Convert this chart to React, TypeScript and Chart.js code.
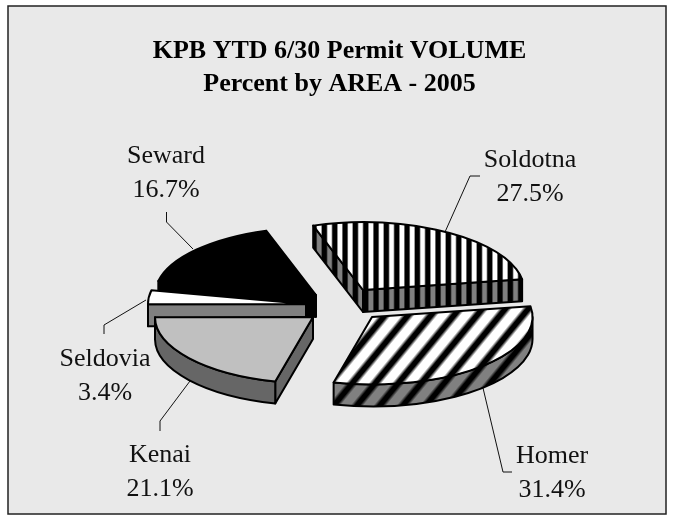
import React, { useEffect, useRef } from "react";
import { Chart, registerables } from "chart.js";

Chart.register(...registerables);

const titleLines = ["KPB YTD 6/30 Permit VOLUME", "Percent by AREA - 2005"];
const areas = ["Soldotna", "Homer", "Kenai", "Seldovia", "Seward"];
const percents = [27.5, 31.4, 21.1, 3.4, 16.7];

// Style / layout constants
const WIDTH = 674;
const HEIGHT = 522;
const SERIF = "'Liberation Serif', serif";
const BG = "#e9e9e9";
const PIE_CENTER = { x: 347, y: 306 };
const SQUASH = 0.42;
const RADIUS = 158;
const DEPTH = 22;
const OUTLINE = 2;
const explodeShift = [
  [16, -16],
  [25, 11],
  [-34, 11],
  [-41, -2],
  [-31, -11],
];
const sliceScale = [1.02, 1.016, 1, 1, 1.02];
const paintOrder = [4, 3, 2, 0, 1];
const labelAnchors = [
  [530, 167],
  [552, 463],
  [160, 462],
  [105, 366],
  [166, 163],
];
const leaders = [
  [[480, 176], [470, 176], [445, 232]],
  [[512, 472], [503, 472], [483, 388]],
  [[160, 431], [160, 421], [190, 381]],
  [[104, 334], [104, 325], [146, 300]],
  [[166.5, 212], [166.5, 222], [193, 249]],
];

function clamp01(v: number) {
  return Math.max(0, Math.min(1, v));
}

// Build a tile pixel by pixel; shade(x, y) = 0 for black, 1 for the light colour.
function tile(w: number, h: number, light: number, shade: (x: number, y: number) => number) {
  const cv = document.createElement("canvas");
  cv.width = w;
  cv.height = h;
  const c = cv.getContext("2d") as CanvasRenderingContext2D;
  const img = c.createImageData(w, h);
  for (let y = 0; y < h; y++) {
    for (let x = 0; x < w; x++) {
      const v = Math.round(shade(x + 0.5, y + 0.5) * light);
      const k = (y * w + x) * 4;
      img.data[k] = v;
      img.data[k + 1] = v;
      img.data[k + 2] = v;
      img.data[k + 3] = 255;
    }
  }
  c.putImageData(img, 0, 0);
  return cv;
}

function verticalStripes(light: number) {
  const period = 62 / 6;
  const phase = 4.05;
  return tile(62, 1, light, (x) => {
    let d = Math.abs(((x - phase) % period + period) % period);
    d = Math.min(d, period - d);
    return clamp01((d - 1.9) / 1.6);
  });
}

function diagonalStripes(light: number) {
  const W = 23;
  const H = 28;
  return tile(W, H, light, (x, y) => {
    let d = (x + (y * W) / H) % W;
    d = Math.min(d, W - d);
    return clamp01((d - 2.6) / 4);
  });
}

export default function App() {
  const ref = useRef<HTMLCanvasElement>(null);
  useEffect(() => {
    const canvas = ref.current as HTMLCanvasElement;
    const ctx = canvas.getContext("2d") as CanvasRenderingContext2D;
    const pat = (cv: HTMLCanvasElement) => ctx.createPattern(cv, "repeat") as CanvasPattern;
    const topFills: any[] = [
      pat(verticalStripes(255)),
      pat(diagonalStripes(255)),
      "#c0c0c0",
      "#ffffff",
      "#000000",
    ];
    const wallFills: any[] = [
      pat(verticalStripes(128)),
      pat(diagonalStripes(128)),
      "#666666",
      "#808080",
      "#000000",
    ];

    const frame = {
      id: "frame",
      beforeDraw(chart: any) {
        const c = chart.ctx;
        c.save();
        c.fillStyle = BG;
        c.fillRect(8, 6, 658, 508);
        c.strokeStyle = "#222";
        c.lineWidth = 1.5;
        c.strokeRect(8, 6, 658, 508);
        c.restore();
      },
    };

    const pie3d = {
      id: "pie3d",
      beforeDatasetsDraw(chart: any) {
        const c: CanvasRenderingContext2D = chart.ctx;
        const arcs = chart.getDatasetMeta(0).data;

        c.save();
        c.strokeStyle = "#111";
        c.lineWidth = 1;
        leaders.forEach((pts) => {
          c.beginPath();
          pts.forEach(([x, y], i) => (i ? c.lineTo(x, y) : c.moveTo(x, y)));
          c.stroke();
        });
        c.restore();

        paintOrder.forEach((i) => {
          const arc = arcs[i];
          const cx = PIE_CENTER.x + explodeShift[i][0];
          const cy = PIE_CENTER.y + explodeShift[i][1];
          const f = sliceScale[i];
          const r = arc.outerRadius * f;
          const ry = r * SQUASH;
          const TAU = Math.PI * 2;
          let s = arc.startAngle % TAU;
          if (s < 0) s += TAU;
          const e = s + (arc.endAngle - arc.startAngle);
          const pt = (a: number) => [cx + r * Math.cos(a), cy + ry * Math.sin(a)];

          c.save();
          c.lineJoin = "round";
          c.lineWidth = OUTLINE;
          c.strokeStyle = "#000";
          c.fillStyle = wallFills[i];

          const quad = (a: number) => {
            const p = pt(a);
            c.beginPath();
            c.moveTo(cx, cy);
            c.lineTo(p[0], p[1]);
            c.lineTo(p[0], p[1] + DEPTH);
            c.lineTo(cx, cy + DEPTH);
            c.closePath();
            c.fill();
            c.stroke();
          };
          if (Math.cos(s) < 0) quad(s);
          if (Math.cos(e) > 0) quad(e);

          [0, TAU].forEach((base) => {
            const a0 = Math.max(s, base);
            const a1 = Math.min(e, base + Math.PI);
            if (a1 <= a0) return;
            c.beginPath();
            c.ellipse(cx, cy, r, ry, 0, a0, a1);
            c.ellipse(cx, cy + DEPTH, r, ry, 0, a1, a0, true);
            c.closePath();
            c.fill();
            c.stroke();
          });

          // top face: the library's own arc element under a squashing transform
          c.save();
          c.translate(cx, cy);
          c.scale(f, f * SQUASH);
          c.translate(-arc.x, -arc.y);
          const fill = topFills[i];
          if (typeof fill !== "string") fill.setTransform(c.getTransform().inverse());
          arc.draw(c);
          c.restore();

          c.beginPath();
          c.moveTo(cx, cy);
          c.ellipse(cx, cy, r, ry, 0, s, e);
          c.closePath();
          c.stroke();
          c.restore();
        });

        c.save();
        c.fillStyle = "#111";
        c.font = `26px ${SERIF}`;
        c.textAlign = "center";
        c.textBaseline = "alphabetic";
        areas.forEach((name, i) => {
          const [x, y] = labelAnchors[i];
          c.fillText(name, x, y);
          c.fillText(`${percents[i].toFixed(1)}%`, x, y + 34);
        });
        c.restore();
        return false;
      },
    };

    const chart = new Chart(canvas, {
      type: "pie",
      data: {
        labels: areas,
        datasets: [{ data: percents, backgroundColor: topFills, borderWidth: 0 }],
      },
      options: {
        responsive: false,
        animation: false,
        rotation: -18,
        radius: RADIUS,
        layout: { padding: { left: 5 } },
        plugins: {
          legend: { display: false },
          tooltip: { enabled: false },
          title: {
            display: true,
            text: titleLines,
            color: "#000",
            font: { family: SERIF, size: 26, weight: "bold", lineHeight: 1.3 },
            padding: { top: 34, bottom: 10 },
          },
        },
      } as any,
      plugins: [frame, pie3d],
    });
    return () => chart.destroy();
  }, []);
  return (
    <canvas
      ref={ref}
      width={WIDTH}
      height={HEIGHT}
      style={{ position: "fixed", left: 0, top: 0, width: WIDTH, height: HEIGHT }}
    />
  );
}
